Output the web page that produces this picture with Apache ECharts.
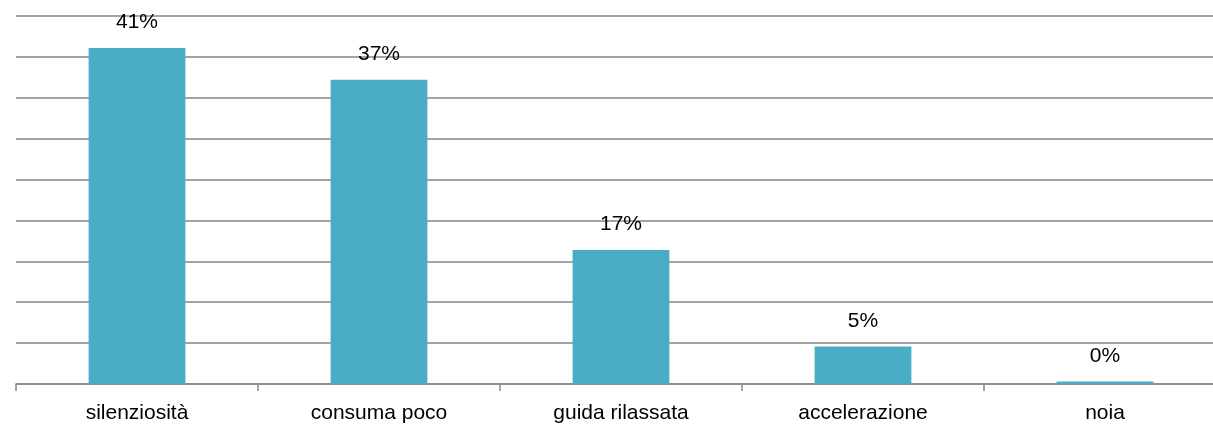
<!DOCTYPE html>
<html>
<head>
<meta charset="utf-8">
<script src="https://cdn.jsdelivr.net/npm/echarts@6/dist/echarts.min.js"></script>
<style>
  html, body { margin: 0; padding: 0; background: #fff; overflow: hidden; }
  /* il grafico originale è tagliato a destra: contenitore più largo della finestra */
  #chart { width: 1226px; height: 426px; }
</style>
</head>
<body>
<div id="chart"></div>
<script>
  // categorie e percentuali
  var categories = ['silenziosità', 'consuma poco', 'guida rilassata', 'accelerazione', 'noia'];
  var values = [41.1, 37.2, 16.4, 4.6, 0.3];
  var labels = ['41%', '37%', '17%', '5%', '0%'];

  var myChart = echarts.init(document.getElementById('chart'));
  myChart.setOption({
    animation: false,
    grid: { left: 16, right: 0, top: 16, bottom: 42, containLabel: false },
    xAxis: {
      type: 'category',
      data: categories,
      axisLine: { lineStyle: { color: '#868686', width: 1.5 } },
      axisTick: { show: true, length: 7, lineStyle: { color: '#868686', width: 1.5 } },
      axisLabel: { color: '#000', fontFamily: 'Liberation Sans', fontSize: 21, margin: 19 }
    },
    yAxis: {
      type: 'value',
      min: 0,
      max: 45,
      interval: 5,
      axisLabel: { show: false },
      axisLine: { show: false },
      axisTick: { show: false },
      splitLine: { lineStyle: { color: '#868686', width: 1.5 } }
    },
    series: [{
      type: 'bar',
      data: values,
      barWidth: '40%',
      itemStyle: { color: '#4BACC6' },
      label: {
        show: true,
        position: 'top',
        distance: 15,
        color: '#000',
        fontFamily: 'Liberation Sans',
        fontSize: 21,
        formatter: function (p) { return labels[p.dataIndex]; }
      }
    }]
  });
</script>
</body>
</html>
